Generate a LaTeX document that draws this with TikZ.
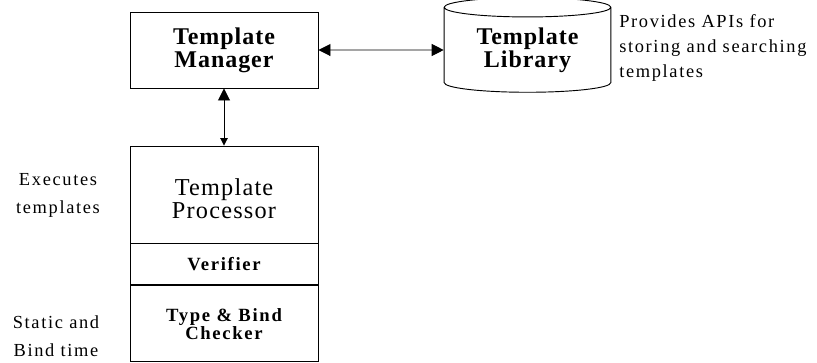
\documentclass[tikz,border=0pt]{standalone}
\usepackage{fontspec}
\setmainfont{Liberation Serif}[LetterSpace=9]
\newfontfamily\titlefont{Liberation Serif}[LetterSpace=4]
\newfontfamily\procfont{Liberation Serif}[LetterSpace=5]
\usetikzlibrary{shapes,arrows.meta}

\tikzset{
  box/.style={draw, line width=0.7pt, minimum width=141pt, inner sep=0pt, align=center},
  link/.style={line width=0.7pt, {Triangle[length=9pt,width=9pt]}-{Triangle[length=9pt,width=9pt]}},
  note/.style={inner sep=0pt, align=center, font=\fontsize{13.8}{21}\selectfont},
}

\begin{document}
\begin{tikzpicture}[x=0.75pt,y=0.75pt,yscale=-1,xscale=1]
\path[use as bounding box] (0,0) rectangle (817,362);

%Template Manager
\node [box, minimum height=57pt, font=\titlefont\bfseries\fontsize{18}{17.4}\selectfont] (mgr) at (224,50) {Template\\Manager};
%Template Library (cylinder)
\node [draw, line width=0.7pt, shape=cylinder, shape border rotate=90, aspect=0.19, minimum width=125pt, minimum height=71pt, inner sep=0pt, align=center, font=\titlefont\bfseries\fontsize{18}{17.4}\selectfont] (lib) at (527.5,50) {Template\\Library};

%Processor stack
\node [box, minimum height=72.75pt] (proc) at (224,194.5) {};
\node [box, anchor=north, minimum height=30.75pt, font=\bfseries\fontsize{14}{13.5}\selectfont] (verif) at (proc.south) {Verifier};
\node [box, anchor=north, minimum height=57pt, font=\bfseries\fontsize{14}{13.5}\selectfont] (chk) at (verif.south) {Type \& Bind\\Checker};
\node [inner sep=0pt, align=center, font=\procfont\fontsize{18.2}{17.4}\selectfont] (procname) at (224,199) {Template\\Processor};

%Arrows
\draw [link] (mgr.east) -- (lib.west);
\draw [line width=0.7pt, {Triangle[length=9pt,width=9pt]}-{Triangle[length=5.5pt,width=5.5pt]}] (mgr.south) -- (proc.north);

% Text Node
\node [note] (exec) at (58,195) {Executes\\templates};
% Text Node
\node [note] (static) at (56,336) {Static and\\Bind time};
% Text Node
\node [note, align=left, anchor=west, font=\fontsize{13.8}{18.4}\selectfont] (apis) at (619,48) {Provides APIs for\\storing and searching\\templates};

\end{tikzpicture}
\end{document}
